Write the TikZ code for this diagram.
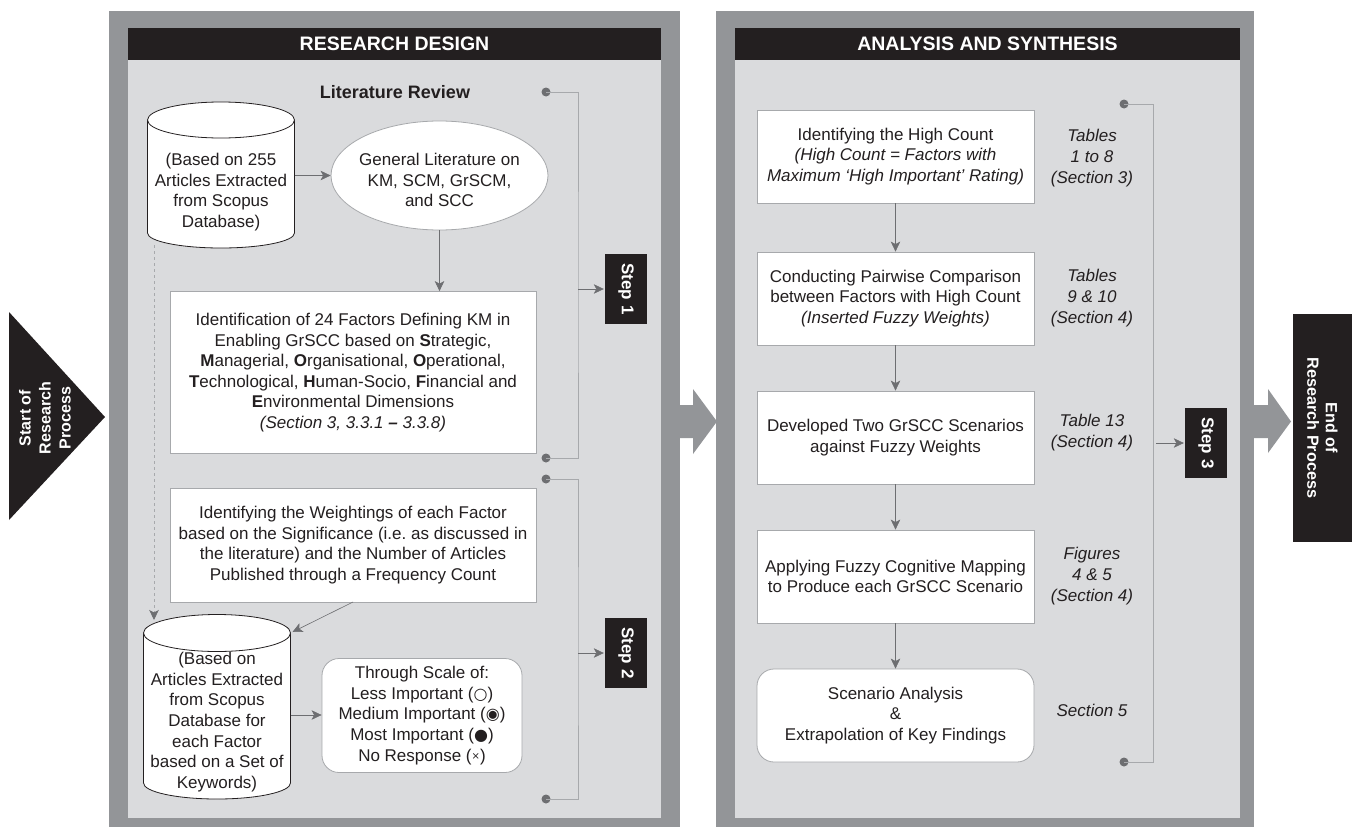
\documentclass[tikz,border=0pt]{standalone}
\usepackage{fontspec}
\setmainfont{Liberation Sans}
\newfontfamily\symf{DejaVu Sans}
\usetikzlibrary{arrows.meta,shapes.geometric}
\definecolor{panelout}{HTML}{939598}
\definecolor{panelin}{HTML}{DADBDD}
\definecolor{ink}{HTML}{231F20}
\definecolor{wire}{HTML}{6D6E71}
\definecolor{wirelt}{HTML}{A7A9AC}
\frenchspacing
\tikzset{
  x=1pt,y=-1pt,
  every node/.style={font=\fontsize{17}{20.6}\selectfont,text=ink,align=center,inner sep=0pt},
  whitebox/.style={draw=wirelt,line width=0.8pt,fill=white},
  roundbox/.style={whitebox,rounded corners=17pt},
  blackbox/.style={fill=ink,text=white,font=\fontsize{17}{18}\selectfont\bfseries},
  flow/.style={draw=wire,line width=0.6pt,-{Stealth[length=10pt,width=9.5pt,inset=2.5pt]}},
  dashflow/.style={draw=wirelt,line width=0.7pt,dashed,-{Stealth[length=10pt,width=9.5pt,inset=2.5pt,color=wire]}},
  bracket/.style={draw=wirelt,line width=0.9pt},
  dotnode/.style={circle,fill=wire,minimum size=9pt},
  cylline/.style={draw=ink,line width=0.8pt,fill=white},
  bigarrow/.style={fill=panelout},
  ital/.style={font=\fontsize{17}{20.6}\selectfont\itshape}
}
\begin{document}
\begin{tikzpicture}
\useasboundingbox (0,0) rectangle (1352,827);
% panels
\fill[panelout] (109,11) rectangle (680,827);
\fill[panelin] (128,28) rectangle (661,818);
\fill[panelout] (716,11) rectangle (1254,827);
\fill[panelin] (735,28) rectangle (1240,818);
\node[blackbox,minimum width=533pt,minimum height=32pt,font=\fontsize{19.5}{22}\selectfont\bfseries] (h1) at (394.5,44) {RESEARCH DESIGN};
\node[blackbox,minimum width=505pt,minimum height=32pt,font=\fontsize{19.5}{22}\selectfont\bfseries] (h2) at (987.5,44) {ANALYSIS AND SYNTHESIS};
\node[font=\fontsize{18}{20}\selectfont\bfseries] (lit) at (395,92.5) {Literature Review};
% big arrows
\fill[bigarrow] (679,405) -- (693,405) -- (693,389) -- (717,421.5) -- (693,454) -- (693,438) -- (679,438) -- cycle;
\fill[bigarrow] (1253,405) -- (1268,405) -- (1268,389) -- (1291,421.5) -- (1268,453) -- (1268,438) -- (1253,438) -- cycle;
% start / end
\fill[ink] (9,312) -- (105,417) -- (9,520) -- cycle;
\node[rotate=90,text=white,font=\fontsize{16}{20}\selectfont\bfseries] (start) at (45,418) {Start of\\Research\\Process};
\node[blackbox,rotate=-90,minimum width=228pt,minimum height=59pt,font=\fontsize{16.2}{18.5}\selectfont\bfseries] (endbox) at (1322.5,428) {End of\\Research Process};
% cylinders
\path[cylline] (147.5,120) -- (147.5,233) arc[start angle=180,end angle=360,x radius=73.5pt,y radius=15pt] -- (294.5,120) -- cycle;
\path[cylline] (221,120) ellipse[x radius=73.5pt,y radius=18pt];
\path[cylline] (143.5,633) -- (143.5,783) arc[start angle=180,end angle=360,x radius=73.5pt,y radius=16pt] -- (290.5,633) -- cycle;
\path[cylline] (217,633) ellipse[x radius=73.5pt,y radius=18.5pt];
\node[minimum width=147pt] (cyla) at (221,192) {(Based on 255\\Articles Extracted\\from Scopus\\Database)};
\node[minimum width=147pt] (cylb) at (217,722) {(Based on\\Articles Extracted\\from Scopus\\Database for\\each Factor\\based on a Set of\\Keywords)};
\coordinate (cyla-dash) at (154,245);
\coordinate (cylb-dash) at (154,620);
\coordinate (cylb-tr) at (292.5,632);
\coordinate (cylb-out) at (290.5,715);
% left boxes
\node[whitebox,ellipse,minimum width=217pt,minimum height=109pt] (gen) at (439.5,175.5) {};
\node (gent) at (439.5,180) {General Literature on\\KM, SCM, GrSCM,\\and SCC};
\node[whitebox,minimum width=366pt,minimum height=162pt] (ident) at (353,372.5) {Identification of 24 Factors Defining KM in\\Enabling GrSCC based on \textbf{S}trategic,\\\textbf{M}anagerial, \textbf{O}rganisational, \textbf{O}perational,\\\textbf{T}echnological, \textbf{H}uman-Socio, \textbf{F}inancial and\\\textbf{E}nvironmental Dimensions\\\textit{(Section 3, 3.3.1 \textbf{–} 3.3.8)}};
\node[whitebox,minimum width=366pt,minimum height=114pt] (weigh) at (353,545) {Identifying the Weightings of each Factor\\based on the Significance (i.e. as discussed in\\the literature) and the Number of Articles\\Published through a Frequency Count};
\coordinate (weigh-out) at (353,602);
\node[roundbox,minimum width=200pt,minimum height=114pt] (scale) at (422,715.5) {Through Scale of:\\Less Important ({\symf\fontsize{16}{16}\selectfont ○})\\Medium Important ({\symf\fontsize{16}{16}\selectfont ◉})\\Most Important ({\symf\fontsize{16}{16}\selectfont ●})\\No Response (\raisebox{1.5pt}{\symf\fontsize{10}{10}\selectfont ×})};
% step boxes
\node[blackbox,rotate=-90,minimum width=70pt,minimum height=42pt] (s1) at (626,289) {Step 1};
\node[blackbox,rotate=-90,minimum width=70pt,minimum height=42pt] (s2) at (626,653) {Step 2};
\node[blackbox,rotate=-90,minimum width=70pt,minimum height=42pt] (s3) at (1206,443) {Step 3};
% right boxes
\node[whitebox,minimum width=277pt,minimum height=93pt] (r1) at (895.5,156.5) {Identifying the High Count\\\textit{(High Count = Factors with}\\\textit{Maximum ‘High Important’ Rating)}};
\node[whitebox,minimum width=277pt,minimum height=93pt] (r2) at (895.5,298.5) {Conducting Pairwise Comparison\\between Factors with High Count\\\textit{(Inserted Fuzzy Weights)}};
\node[whitebox,minimum width=277pt,minimum height=93pt] (r3) at (895.5,437.5) {Developed Two GrSCC Scenarios\\against Fuzzy Weights};
\node[whitebox,minimum width=277pt,minimum height=93pt] (r4) at (895.5,576.5) {Applying Fuzzy Cognitive Mapping\\to Produce each GrSCC Scenario};
\node[roundbox,minimum width=277pt,minimum height=93pt] (r5) at (895.5,715.5) {Scenario Analysis\\\&\\Extrapolation of Key Findings};
% side notes
\node[ital] (n1) at (1092,158) {Tables\\1 to 8\\(Section 3)};
\node[ital] (n2) at (1092,298) {Tables\\9 \& 10\\(Section 4)};
\node[ital] (n3) at (1092,432.5) {Table 13\\(Section 4)};
\node[ital] (n4) at (1092,576) {Figures\\4 \& 5\\(Section 4)};
\node[ital] (n5) at (1092,710) {Section 5};
% dots
\node[dotnode] (d1a) at (546,92) {};
\node[dotnode] (d1b) at (546,458) {};
\node[dotnode] (d2a) at (546,479) {};
\node[dotnode] (d2b) at (546,799) {};
\node[dotnode] (d3a) at (1124,104) {};
\node[dotnode] (d3b) at (1124,762) {};
\coordinate (b1) at (578,289);
\coordinate (b2) at (578,653);
\coordinate (b3) at (1153,443);
% brackets
\draw[bracket] (d1a.center) -| (b1) |- (d1b.center);
\draw[bracket] (d2a.center) -| (b2) |- (d2b.center);
\draw[bracket] (d3a.center) -| (b3) |- (d3b.center);
\draw[flow,shorten >=1pt] (b1) -- (s1);
\draw[flow,shorten >=1pt] (b2) -- (s2);
\draw[flow,shorten <=3pt,shorten >=1pt] (b3) -- (s3);
% flows
\draw[flow] (cyla.east |- gen.west) -- (gen.west);
\draw[flow] (gen.south) -- (gen.south |- ident.north);
\draw[flow] (weigh-out) -- (cylb-tr);
\draw[flow] (cylb-out) -- (scale.west |- cylb-out);
\draw[dashflow] (cyla-dash) -- (cylb-dash);
\draw[flow] (r1) -- (r2);
\draw[flow] (r2) -- (r3);
\draw[flow] (r3) -- (r4);
\draw[flow] (r4) -- (r5);
\end{tikzpicture}
\end{document}
